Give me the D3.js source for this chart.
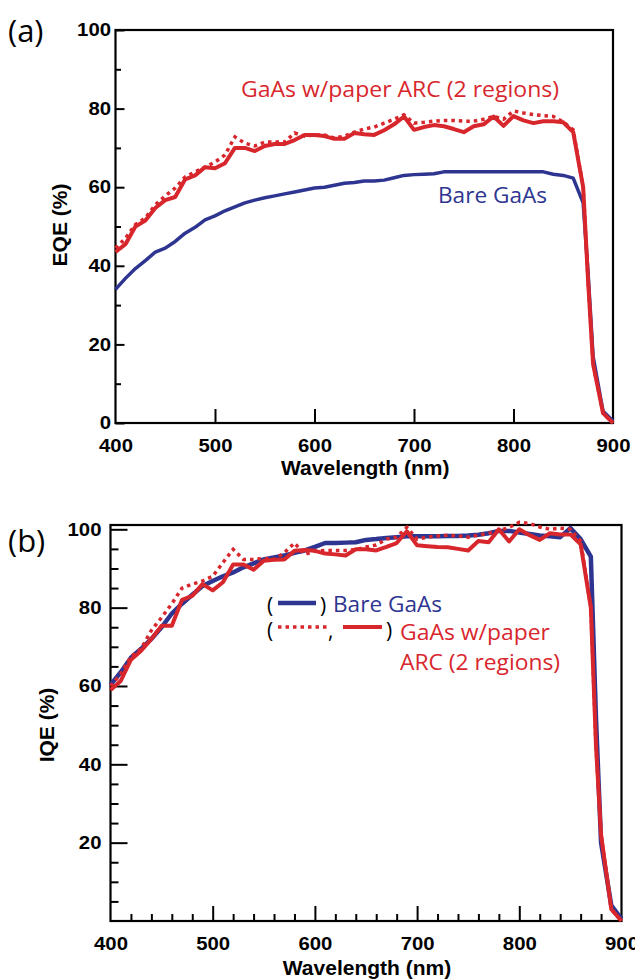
<!DOCTYPE html>
<html>
<head>
<meta charset="utf-8">
<script src="https://cdn.jsdelivr.net/npm/d3@7"></script>
<style>
  body { margin: 0; background: #fff; }
  .tk text { font-family: "Liberation Sans", Arial, sans-serif; font-weight: bold; font-size: 18px; fill: #000; }
  .tk line { stroke: #000; stroke-width: 2; }
  .ttl { font-family: "Liberation Sans", Arial, sans-serif; font-weight: bold; font-size: 21px; }
  .lbl { font-family: "Open Sans", sans-serif; font-size: 21px; }
</style>
</head>
<body>
<svg id="fig" width="635" height="979"></svg>
<script>
// wavelength grid (nm)
var wl = [400,410,420,430,440,450,460,470,480,490,500,510,520,530,540,550,560,570,580,590,
  600,610,620,630,640,650,660,670,680,690,700,710,720,730,740,750,760,770,780,790,
  800,810,820,830,840,850,860,870,875,880,890,900];

// (a) EQE
var eqeBare = [34,36.8,39.3,41.3,43.5,44.5,46.2,48.3,49.8,51.7,52.7,54,55,56,56.7,57.3,57.8,58.3,58.8,59.3,
  59.8,60,60.5,61,61.2,61.6,61.6,61.8,62.4,63,63.2,63.3,63.4,63.9,63.9,63.9,63.9,63.9,63.9,63.9,
  63.9,63.9,63.9,63.9,63.3,63,62.3,56,38,17,3,0.5];
var eqeArcDot = [44.5,47,50.5,52.2,55.5,57.8,59.8,62.6,63.9,65.1,66.4,68.2,72.8,71.2,70.5,71.5,71.5,71.5,73.8,73,
  73.3,73.3,72.5,73,74,74.8,75.3,76.3,77.3,78.4,76.3,76.5,76.8,77,77,76.8,76.8,77.3,78,77.3,
  79.4,78.9,78.5,78.2,78,76.6,74.6,60,36,15,2.5,0];
var eqeArc = [43.5,45.5,50,51.5,54.7,56.7,57.5,62,63,65.1,64.8,66.1,70,70,69.2,70.5,71,71,72,73.3,
  73.3,73,72.3,72.3,73.8,73.5,73.3,74.5,76,78,74.6,75.3,75.8,75.5,74.8,74,75.5,76,78,75.6,
  78.1,77,76.3,76.8,76.8,76.5,74,60,36,15,2.5,0];

// (b) IQE
var iqeBare = [60.3,63.5,67.2,69.5,72,75,78.5,81,83.3,85.5,86.8,88,89,90.3,91.3,92.3,92.8,93.3,94,94.6,
  95.5,96.5,96.5,96.6,96.7,97.3,97.5,97.8,98,98.2,98.2,98.2,98.2,98.3,98.3,98.4,98.6,99,99.6,99.6,
  99.2,98.8,98.4,98.2,98,100.3,97.5,93,52,20,4,0.5];
var iqeArcDot = [60,63,67.5,69.5,74.2,77.5,81,85,86,86.8,88,91.5,94.9,92.3,92.3,92.6,92.3,94,96.5,93.6,
  94.4,94.6,94.6,94.6,94.8,95.5,96,97.5,98,100.5,97.5,98,98.3,98.5,98.3,98,98.5,99,99.6,100.5,
  101.8,101.5,100.6,100,100.3,100,97,80,45,22,3,0];
var iqeArc = [59,61.3,66.7,69,72,75.4,75.4,82,83,86,84.4,86.5,91,91,89.7,92,92.2,92.3,94.5,94.7,
  94.5,93.8,93.6,93.3,94.9,94.9,94.6,95.5,96.5,99.5,95.9,95.7,95.5,95.4,95,94.6,97,96.7,100,96.9,
  100,98.5,97.3,99,98.7,98.7,96.2,80,45,22,3,0];

var xTicks = [400,500,600,700,800,900];
var xMinorB = d3.range(420, 900, 20).filter(function(d){ return d % 100 != 0; });
var yTicksA = [0,20,40,60,80,100], yMinorA = [10,30,50,70,90];
var yTicksB = [20,40,60,80,100], yMinorB = [5,10,15,25,30,35,45,50,55,65,70,75,85,90,95];

var RED = "#d8262d", BLUE = "#2e3591";
var svg = d3.select("#fig");

function panel(p) {
  var x = d3.scaleLinear().domain([400, 900]).range([p.l, p.r]);
  var y = d3.scaleLinear().domain([0, p.ymax]).range([p.b, p.t]);
  var g = svg.append("g");

  // minor ticks first
  if (p.xMinor) g.append("g").attr("class", "tk").attr("transform", "translate(0," + p.b + ")")
    .call(d3.axisBottom(x).tickValues(p.xMinor).tickSize(-p.xMinLen).tickFormat(""));
  g.append("g").attr("class", "tk").attr("transform", "translate(" + p.l + ",0)")
    .call(d3.axisLeft(y).tickValues(p.yMinor).tickSize(-p.yMinLen).tickFormat(""));

  var xa = g.append("g").attr("class", "tk").attr("transform", "translate(0," + p.b + ")")
    .call(d3.axisBottom(x).tickValues(xTicks).tickSize(-p.xLen).tickPadding(16));
  xa.selectAll(".tick line").filter(function(d){ return d == 400 || d == 900; }).remove();
  var ya = g.append("g").attr("class", "tk").attr("transform", "translate(" + p.l + ",0)")
    .call(d3.axisLeft(y).tickValues(p.yTicks).tickSize(-p.yLen).tickPadding(p.yPad));
  g.selectAll(".tk .domain").remove();
  g.selectAll(".tk text").attr("transform", "scale(1.13,1)");

  g.append("rect").attr("x", p.l).attr("y", p.t).attr("width", p.r - p.l).attr("height", p.b - p.t)
    .attr("fill", "none").attr("stroke", "#000").attr("stroke-width", 2.2);

  var line = d3.line().x(function(d, i){ return x(wl[i]); }).y(function(d){ return y(d); });
  g.append("path").datum(p.bare).attr("d", line).attr("fill", "none")
    .attr("stroke", BLUE).attr("stroke-width", p.bw).attr("stroke-linejoin", "round");
  g.append("path").datum(p.dot).attr("d", line).attr("fill", "none")
    .attr("stroke", RED).attr("stroke-width", 3.5).attr("stroke-dasharray", "3.5,4");
  g.append("path").datum(p.arc).attr("d", line).attr("fill", "none")
    .attr("stroke", RED).attr("stroke-width", 4).attr("stroke-linejoin", "round");

  g.append("text").attr("class", "ttl").attr("x", (p.l + p.r) / 2 + 1).attr("y", p.xtY)
    .attr("text-anchor", "middle").text("Wavelength (nm)");
  g.append("text").attr("class", "ttl").attr("text-anchor", "middle")
    .attr("transform", "translate(" + p.ytX + "," + p.ytY + ") rotate(-90)").text(p.ytitle);
  g.append("text").attr("class", "lbl").attr("x", 8).attr("y", p.tagY)
    .style("font-size", "31px").text(p.tag);
  return {x: x, y: y, g: g};
}

var a = panel({l: 115.5, r: 613, t: 30, b: 423, ymax: 100,
  yTicks: yTicksA, yMinor: yMinorA, yLen: 9, yMinLen: 5.5, yPad: 4,
  xLen: 14, bw: 3.5, bare: eqeBare, dot: eqeArcDot, arc: eqeArc,
  xtY: 475, ytX: 67, ytY: 225, ytitle: "EQE (%)", tag: "(a)", tagY: 42});

var b = panel({l: 110.5, r: 621.5, t: 525, b: 921, ymax: 101.1,
  yTicks: yTicksB, yMinor: yMinorB, yLen: 17, yMinLen: 8, yPad: 8,
  xMinor: xMinorB, xMinLen: 7, xLen: 15, bw: 4.5, bare: iqeBare, dot: iqeArcDot, arc: iqeArc,
  xtY: 975, ytX: 54, ytY: 725, ytitle: "IQE (%)", tag: "(b)", tagY: 552});

// (a) annotations
a.g.append("text").attr("class", "lbl").attr("x", 241).attr("y", 97).attr("fill", RED)
  .attr("textLength", 318).attr("lengthAdjust", "spacingAndGlyphs").text("GaAs w/paper ARC (2 regions)");
a.g.append("text").attr("class", "lbl").attr("x", 438).attr("y", 203).attr("fill", BLUE)
  .attr("textLength", 109).attr("lengthAdjust", "spacingAndGlyphs").text("Bare GaAs");

// (b) legend
var lg = b.g.append("g");
lg.append("text").attr("class", "lbl").attr("x", 267).attr("y", 613).text("(");
lg.append("line").attr("x1", 278).attr("x2", 316).attr("y1", 603).attr("y2", 603)
  .attr("stroke", BLUE).attr("stroke-width", 4.5);
lg.append("text").attr("class", "lbl").attr("x", 320).attr("y", 613).text(")");
lg.append("text").attr("class", "lbl").attr("x", 333).attr("y", 612).attr("fill", BLUE)
  .attr("textLength", 109).attr("lengthAdjust", "spacingAndGlyphs").text("Bare GaAs");

lg.append("text").attr("class", "lbl").attr("x", 267).attr("y", 638).text("(");
lg.append("line").attr("x1", 278).attr("x2", 327).attr("y1", 627).attr("y2", 627)
  .attr("stroke", RED).attr("stroke-width", 3.5).attr("stroke-dasharray", "3.5,4");
lg.append("text").attr("class", "lbl").attr("x", 328).attr("y", 638).text(",");
lg.append("line").attr("x1", 343).attr("x2", 382).attr("y1", 627).attr("y2", 627)
  .attr("stroke", RED).attr("stroke-width", 4);
lg.append("text").attr("class", "lbl").attr("x", 386).attr("y", 638).text(")");
lg.append("text").attr("class", "lbl").attr("x", 400).attr("y", 640).attr("fill", RED)
  .attr("textLength", 150).attr("lengthAdjust", "spacingAndGlyphs").text("GaAs w/paper");
lg.append("text").attr("class", "lbl").attr("x", 400).attr("y", 670).attr("fill", RED)
  .attr("textLength", 160).attr("lengthAdjust", "spacingAndGlyphs").text("ARC (2 regions)");
</script>
</body>
</html>
